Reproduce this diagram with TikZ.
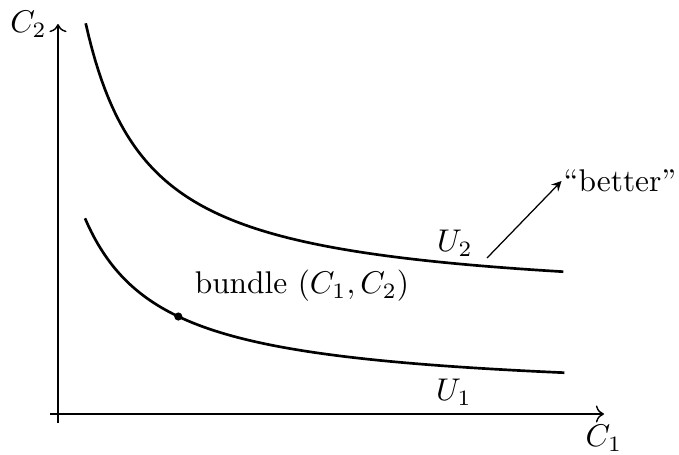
\documentclass[tikz,border=0pt]{standalone}
\usetikzlibrary{arrows.meta}
\begin{document}
\begin{tikzpicture}[x=0.3185pt,y=-0.3185pt,
  curve/.style={line width=0.85pt},
  axis/.style={line width=0.45pt,->},
  pointer/.style={line width=0.4pt,-stealth}]
\useasboundingbox (0,0) rectangle (679,454);
\coordinate (xstart) at (50,414);
\coordinate (xend) at (604,414);
\coordinate (ystart) at (58,423);
\coordinate (yend) at (58,24);
\draw[axis] (xstart) -- (xend) node[below] (c1) {$C_1$};
\draw[axis] (ystart) -- (yend) node[left] (c2) {$C_2$};
\draw[curve] plot[domain=85.7:563.3,samples=150] (\x,{304.3-176.2/((\x-23)/100)});
\draw[curve] plot[domain=85:564.3,samples=150] (\x,{397.5-137.99/((\x-8)/100)});
\fill (178.3,316.5) circle (1.3pt);
\node (u2) at (455,243) {$U_2$};
\node (u1) at (454,392) {$U_1$};
\node (bundle) at (302,286) {bundle $(C_1,C_2)$};
\node[inner sep=0.5pt] (better) at (620,181) {``better''};
\coordinate (bs) at (487,258);
\draw[pointer] (bs) -- (better.west);
\end{tikzpicture}
\end{document}
